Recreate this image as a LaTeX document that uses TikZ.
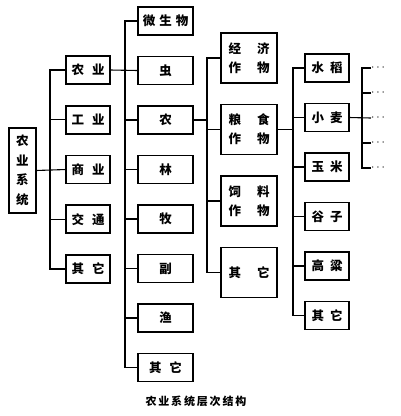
\documentclass[tikz,border=0pt]{standalone}
\usepackage{fontspec}
\newfontfamily\cjk{Noto Sans CJK SC}
\usetikzlibrary{positioning, calc}

\begin{document}
\begin{tikzpicture}[
	x=1pt, y=-1pt,
	% Estilo de la caja raiz
	rootbox/.style={
		draw,
		rectangle,
		line width=1.6pt,
		minimum width=27pt,
		minimum height=85pt,
		inner sep=0pt,
		outer sep=0pt,
		align=center,
		font=\fontsize{12.5}{19.5}\selectfont\cjk\bfseries
	},
	% Estilo de las cajas de una linea
	smallbox/.style={
		draw,
		rectangle,
		line width=1.6pt,
		minimum width=44pt,
		minimum height=28pt,
		inner sep=0pt,
		outer sep=0pt,
		align=center,
		font=\fontsize{12.5}{14}\selectfont\cjk\bfseries
	},
	widebox/.style={
		smallbox,
		minimum width=55pt
	},
	% Estilo de las cajas de dos lineas
	tallbox/.style={
		smallbox,
		minimum width=56pt,
		minimum height=50pt,
		font=\fontsize{12.5}{19}\selectfont\cjk\bfseries
	},
	% Estilo de las lineas
	link/.style={
		line width=1.1pt
	},
	dotsnode/.style={
		inner sep=0pt,
		outer sep=0pt,
		anchor=west,
		font=\fontsize{12}{14}\selectfont\bfseries
	},
	node distance=21.5pt
	]
	
	\useasboundingbox (0,0) rectangle (400,416);
	
	% --- Raiz ---
	\node[rootbox] (root) at (22.5,170.5) {农\\业\\系\\统};
	
	% --- Nivel 1 ---
	\node[smallbox] (nongye) at (88,70) {农\hspace{8pt}业};
	\node[smallbox, below=21.75pt of nongye] (gongye) {工\hspace{8pt}业};
	\node[smallbox, below=21.75pt of gongye] (shangye) {商\hspace{8pt}业};
	\node[smallbox, below=21.75pt of shangye] (jiaotong) {交\hspace{8pt}通};
	\node[smallbox, below=21.75pt of jiaotong] (qita1) {其\hspace{8pt}它};
	
	% --- Nivel 2 ---
	\node[widebox] (weishengwu) at (165.5,21) {微\hspace{4pt}生\hspace{4pt}物};
	\node[widebox, below=of weishengwu] (chong) {虫};
	\node[widebox, below=of chong] (nong) {农};
	\node[widebox, below=of nong] (lin) {林};
	\node[widebox, below=of lin] (mu) {牧};
	\node[widebox, below=of mu] (fu) {副};
	\node[widebox, below=of fu] (yu) {渔};
	\node[widebox, below=of yu] (qita2) {其\hspace{8pt}它};
	
	% --- Nivel 3 ---
	\node[tallbox] (jingji) at (249,58) {经\hspace{16pt}济\\作\hspace{16pt}物};
	\node[tallbox, below=of jingji] (liangshi) {粮\hspace{16pt}食\\作\hspace{16pt}物};
	\node[tallbox, below=of liangshi] (siliao) {饲\hspace{16pt}料\\作\hspace{16pt}物};
	\node[tallbox, below=of siliao] (qita3) {其\hspace{16pt}它};
	
	% --- Nivel 4 ---
	\node[smallbox] (shuidao) at (327,68) {水\hspace{6pt}稻};
	\node[smallbox, below=of shuidao] (xiaomai) {小\hspace{6pt}麦};
	\node[smallbox, below=of xiaomai] (yumi) {玉\hspace{6pt}米};
	\node[smallbox, below=of yumi] (guzi) {谷\hspace{6pt}子};
	\node[smallbox, below=of guzi] (gaoliang) {高\hspace{6pt}粱};
	\node[smallbox, below=of gaoliang] (qita4) {其\hspace{6pt}它};
	
	% --- Nivel 5 (puntos) ---
	\node[dotsnode] (d1) at (371,68) {$\cdots$};
	\node[dotsnode] (d2) at (371,93) {$\cdots$};
	\node[dotsnode] (d3) at (371,118) {$\cdots$};
	\node[dotsnode] (d4) at (371,143) {$\cdots$};
	\node[dotsnode] (d5) at (371,168) {$\cdots$};
	
	% Barras verticales
	\coordinate (b1) at (50,0);
	\coordinate (b2) at (125,0);
	\coordinate (b3) at (207,0);
	\coordinate (b4) at (293,0);
	\coordinate (b5) at (362,0);
	
	% Raiz -> nivel 1
	\draw[link] (root.east) -- (shangye.west);
	\draw[link] (nongye.west) -| (b1 |- qita1.west) -- (qita1.west);
	\draw[link] (gongye.west) -- (b1 |- gongye.west);
	\draw[link] (jiaotong.west) -- (b1 |- jiaotong.west);
	
	% Nivel 1 -> nivel 2
	\draw[link] (nongye.east) -- (chong.west);
	\draw[link] (weishengwu.west) -| (b2 |- qita2.west) -- (qita2.west);
	\draw[link] (nong.west) -- (b2 |- nong.west);
	\draw[link] (lin.west) -- (b2 |- lin.west);
	\draw[link] (mu.west) -- (b2 |- mu.west);
	\draw[link] (fu.west) -- (b2 |- fu.west);
	\draw[link] (yu.west) -- (b2 |- yu.west);
	
	% Nivel 2 -> nivel 3
	\draw[link] (nong.east) -- (b3 |- nong.east);
	\draw[link] (jingji.west) -| (b3 |- qita3.west) -- (qita3.west);
	\draw[link] (liangshi.west) -- (b3 |- liangshi.west);
	\draw[link] (siliao.west) -- (b3 |- siliao.west);
	
	% Nivel 3 -> nivel 4
	\draw[link] (liangshi.east) -- (b4 |- liangshi.east);
	\draw[link] (shuidao.west) -| (b4 |- qita4.west) -- (qita4.west);
	\draw[link] (xiaomai.west) -- (b4 |- xiaomai.west);
	\draw[link] (yumi.west) -- (b4 |- yumi.west);
	\draw[link] (guzi.west) -- (b4 |- guzi.west);
	\draw[link] (gaoliang.west) -- (b4 |- gaoliang.west);
	
	% Nivel 4 -> puntos
	\draw[link] (xiaomai.east) -- (d3.west);
	\draw[link] (d1.west) -| (b5 |- d5.west) -- (d5.west);
	\draw[link] (d2.west) -- (b5 |- d2.west);
	\draw[link] (d4.west) -- (b5 |- d4.west);
	
	% Titulo
	\node[font=\fontsize{11}{13}\selectfont\cjk\bfseries] (title) at (196,401)
	{农\,业\,系\,统\,层\,次\,结\,构};
	
\end{tikzpicture}
\end{document}
